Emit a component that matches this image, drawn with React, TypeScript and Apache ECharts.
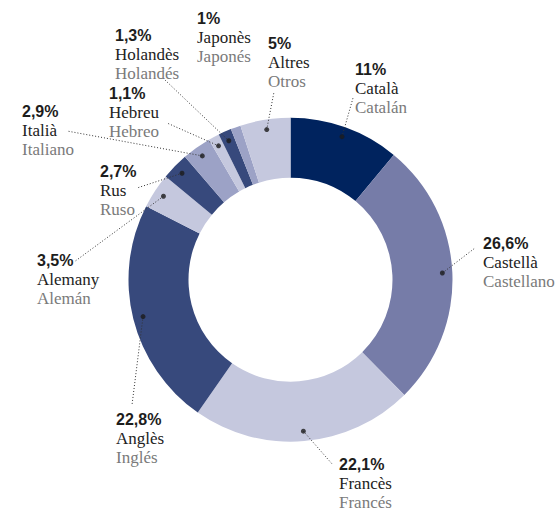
import React, { useEffect, useRef } from 'react';
import * as echarts from 'echarts';

// ---- data ----
const namesCa = ['Català', 'Castellà', 'Francès', 'Anglès', 'Alemany', 'Rus', 'Italià', 'Hebreu', 'Holandès', 'Japonès', 'Altres'];
const namesEs = ['Catalán', 'Castellano', 'Francés', 'Inglés', 'Alemán', 'Ruso', 'Italiano', 'Hebreo', 'Holandés', 'Japonés', 'Otros'];
const shares = [11, 26.6, 22.1, 22.8, 3.5, 2.7, 2.9, 1.1, 1.3, 1, 5];
const hasLeader = [true, true, true, true, true, true, true, true, true, false, true];

// ---- styles / layout ----
const sliceColors = ['#00235e', '#767ca8', '#c5c8de', '#37497c', '#c5c8de', '#37497c', '#9ca2c6', '#c5c8de', '#37497c', '#9ca2c6', '#c5c8de'];
const CENTER = [290.5, 279.7];
const INNER_R = 102;
const OUTER_R = 162;
const DOT_R = 152;
const SERIF = "'Liberation Serif', 'Times New Roman', serif";
const SANS = "'Liberation Sans', Arial, sans-serif";
// top-left of each label block
const labelBoxes: number[][] = [
  [355, 60], [483, 234], [339, 455], [116, 410], [37, 251], [100, 162],
  [22, 102], [109, 84], [115, 26], [197, 9], [268, 34],
];
// where each leader line meets its label
const leaderEnds: (number[] | null)[] = [
  [353, 98], [475, 248], [333, 465], [132, 405], [74, 262], [137, 188],
  [67, 131], [167, 123], [165, 80], null, [274, 92],
];

export default function App() {
  const ref = useRef<HTMLDivElement>(null);
  useEffect(() => {
    document.body.style.margin = '0';
    const chart = echarts.init(ref.current!, null, { renderer: 'svg' });
    const total = shares.reduce((a, b) => a + b, 0);
    let acc = 0;
    const mids = shares.map((v) => {
      const m = acc + v / 2;
      acc += v;
      return m;
    });
    const pctText = shares.map((v) => String(v).replace('.', ',') + '%');
    const pieData = shares.map((v, i) => ({ value: v, name: namesCa[i], itemStyle: { color: sliceColors[i] } }));
    const labelData = shares.map((v, i) => ({ value: v, name: namesCa[i], labelLine: { show: hasLeader[i] } }));
    const dots = mids.filter((_, i) => hasLeader[i]).map((m) => [DOT_R, m]);

    chart.setOption({
      animation: false,
      textStyle: { fontFamily: SERIF },
      polar: { center: CENTER, radius: OUTER_R },
      angleAxis: { type: 'value', min: 0, max: total, startAngle: 90, clockwise: true, show: false },
      radiusAxis: { type: 'value', min: 0, max: OUTER_R, show: false },
      series: [
        {
          type: 'pie',
          center: CENTER,
          radius: [INNER_R, OUTER_R],
          startAngle: 90,
          clockwise: true,
          data: pieData,
          label: { show: false },
          labelLine: { show: false },
          silent: true,
          emphasis: { disabled: true },
          z: 1,
        },
        {
          type: 'pie',
          center: CENTER,
          radius: [0, DOT_R],
          startAngle: 90,
          clockwise: true,
          data: labelData,
          silent: true,
          avoidLabelOverlap: false,
          emphasis: { disabled: true },
          itemStyle: { color: 'rgba(0,0,0,0)' },
          z: 3,
          label: {
            show: true,
            position: 'outside',
            align: 'left',
            verticalAlign: 'top',
            fontFamily: SERIF,
            formatter: (p: any) => `{p|${pctText[p.dataIndex]}}\n{a|${namesCa[p.dataIndex]}}\n{b|${namesEs[p.dataIndex]}}`,
            rich: {
              p: { fontFamily: SANS, fontWeight: 'bold', fontSize: 16, color: '#1d1d1d', lineHeight: 19 },
              a: { fontFamily: SERIF, fontSize: 17, color: '#222222', lineHeight: 19 },
              b: { fontFamily: SERIF, fontSize: 17, color: '#7a7a7a', lineHeight: 19 },
            },
          },
          labelLine: {
            show: true,
            length: 10,
            length2: 10,
            lineStyle: { color: '#333333', width: 1, type: [1, 2] },
          },
          labelLayout: (params: any) => {
            const i = params.dataIndex;
            const out: any = { x: labelBoxes[i][0], y: labelBoxes[i][1], align: 'left', verticalAlign: 'top' };
            const end = leaderEnds[i];
            if (end && params.labelLinePoints && params.labelLinePoints[0]) {
              out.labelLinePoints = [params.labelLinePoints[0], end];
            }
            return out;
          },
        },
        {
          type: 'scatter',
          coordinateSystem: 'polar',
          data: dots,
          symbol: 'circle',
          symbolSize: 5,
          itemStyle: { color: '#1c1c1c' },
          silent: true,
          z: 5,
        },
      ],
    });
    return () => chart.dispose();
  }, []);
  return <div ref={ref} style={{ width: 560, height: 511 }} />;
}
